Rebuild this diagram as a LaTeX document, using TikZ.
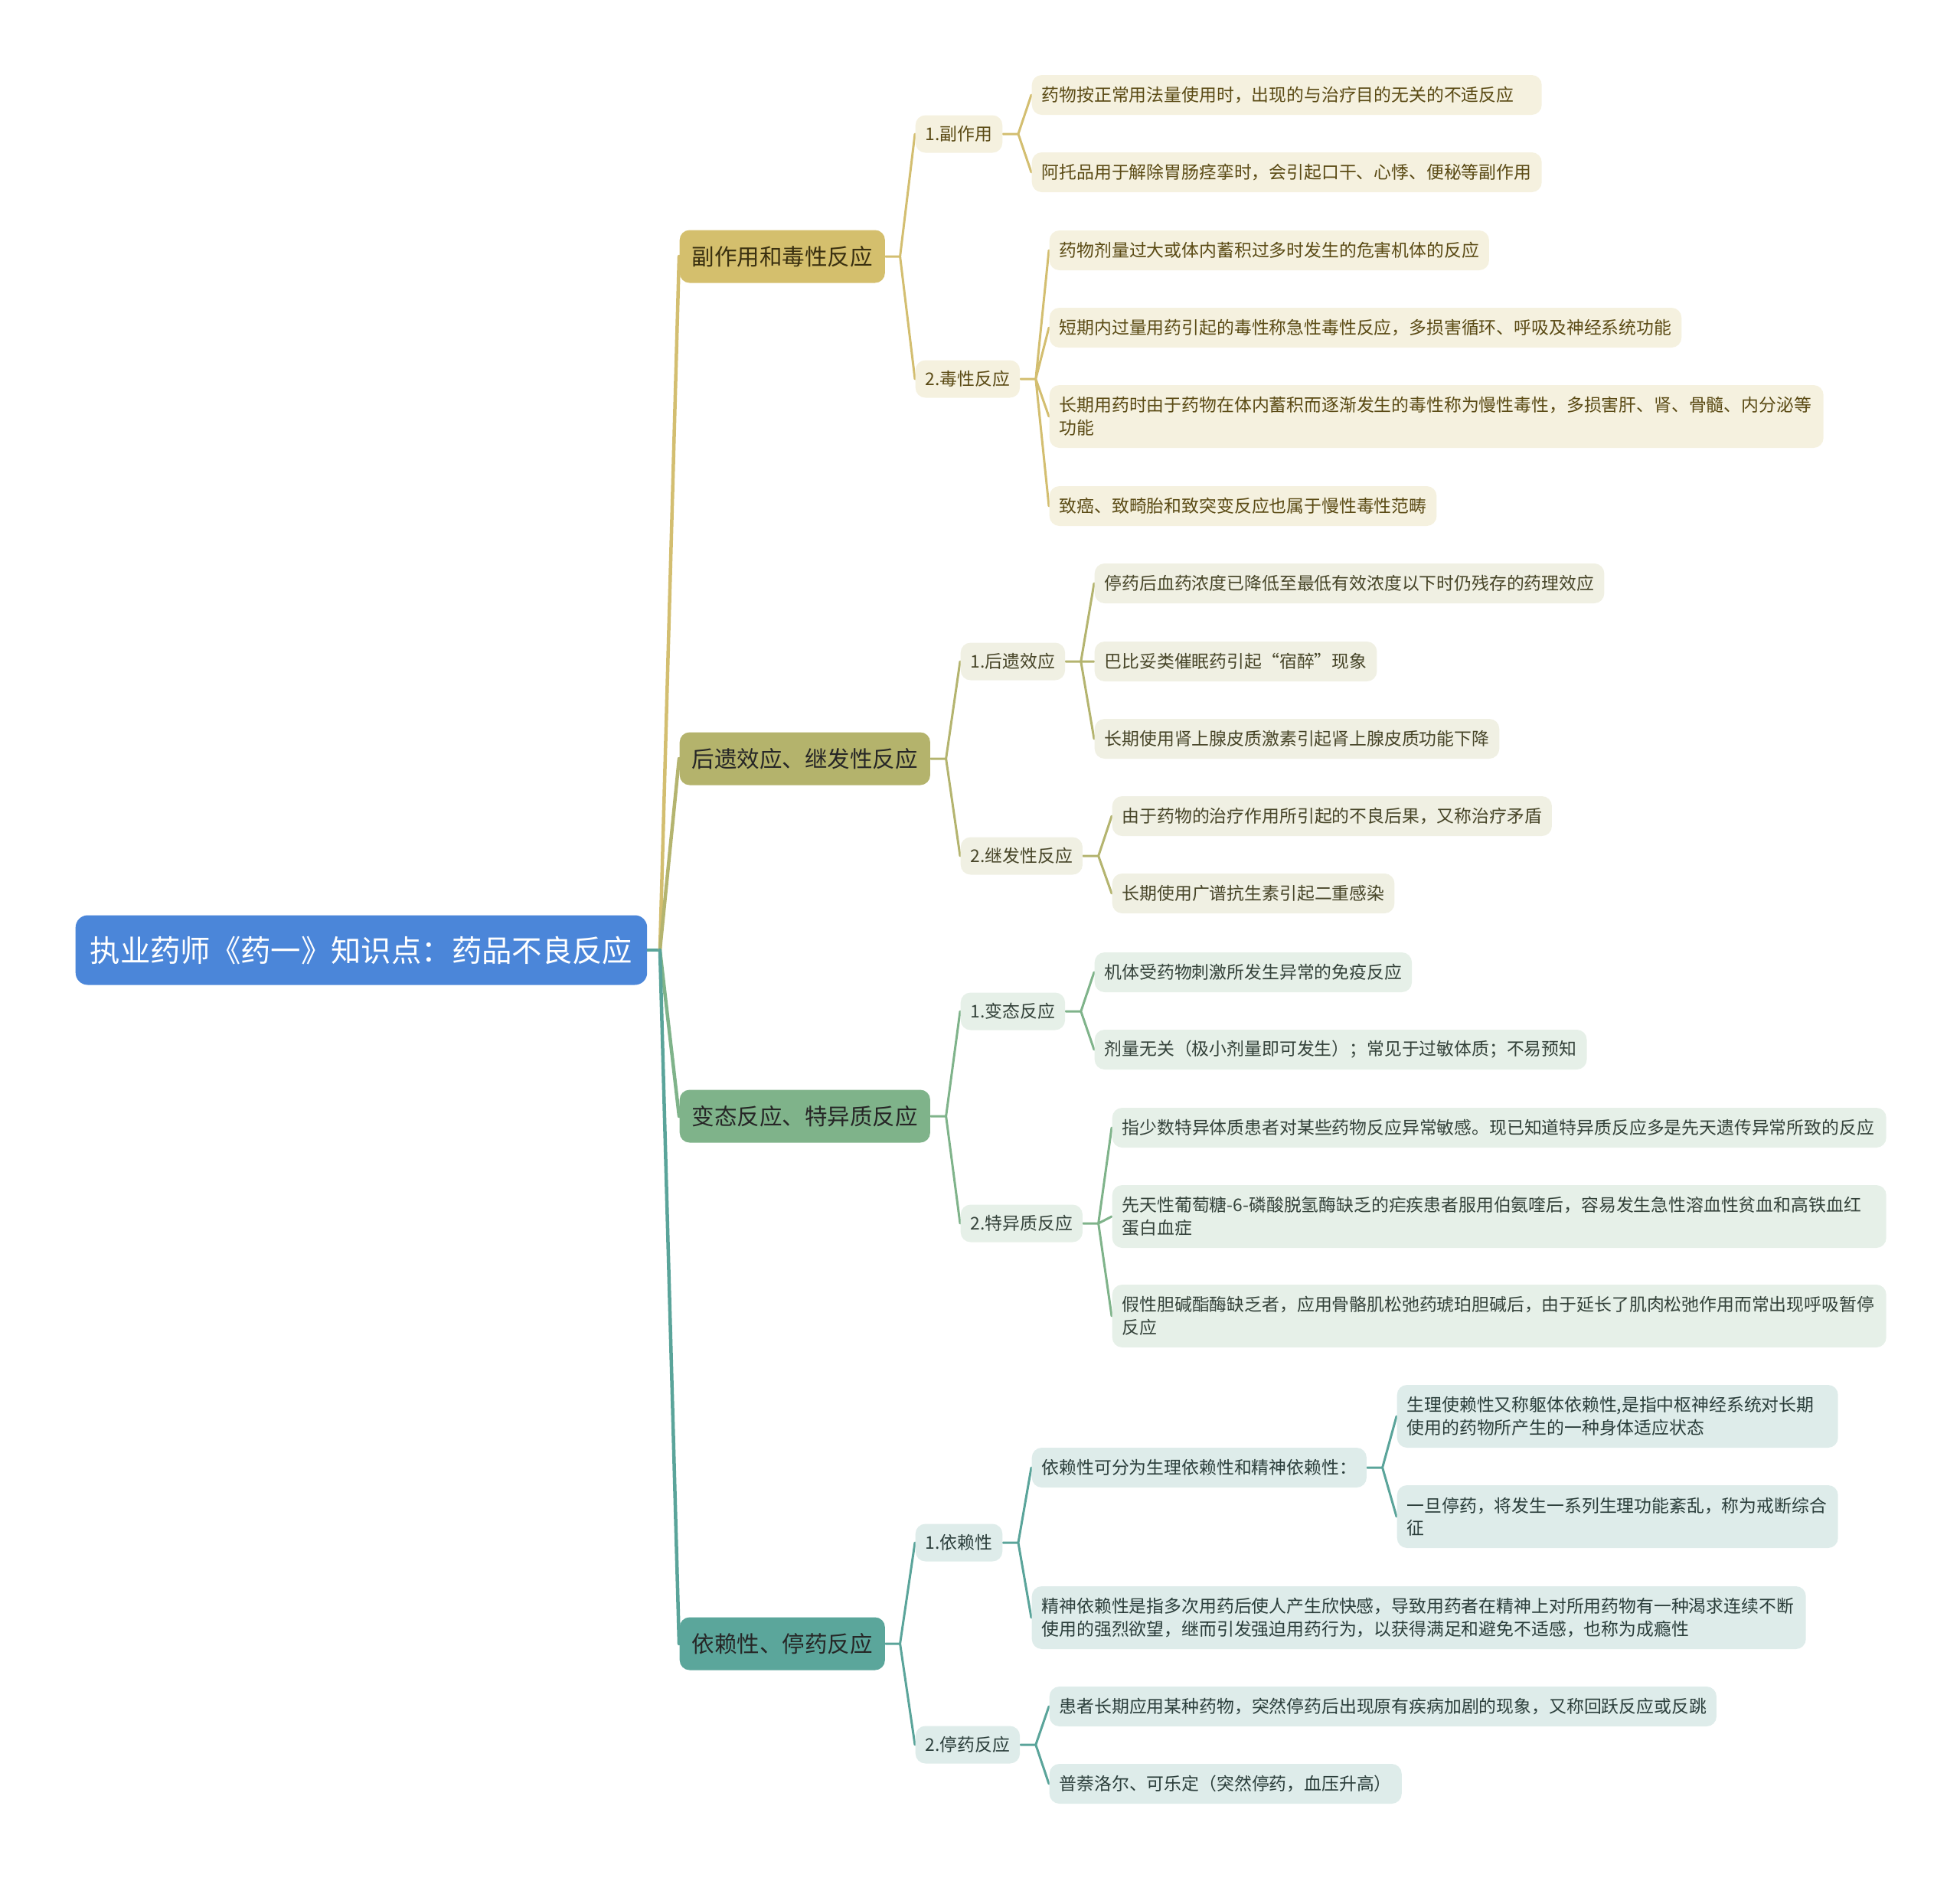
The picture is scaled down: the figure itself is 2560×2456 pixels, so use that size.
\documentclass[tikz,border=0pt]{standalone}
\usepackage{fontspec}
\newfontfamily\cjk{Noto Sans CJK SC}
\usepackage{xcolor}
\usetikzlibrary{positioning,calc,backgrounds}
\definecolor{racinebleu}{HTML}{4B86D9}
\definecolor{brancheor}{HTML}{D4BF6D}
\definecolor{feuilleor}{HTML}{F5F1DF}
\definecolor{lienor}{HTML}{D3BE70}
\definecolor{texteor}{HTML}{5A4A14}
\definecolor{titreor}{HTML}{3A3010}
\definecolor{brancheolive}{HTML}{B4B36C}
\definecolor{feuilleolive}{HTML}{F0F0E3}
\definecolor{lienolive}{HTML}{B4B46F}
\definecolor{texteolive}{HTML}{474528}
\definecolor{branchevert}{HTML}{7FB38A}
\definecolor{feuillevert}{HTML}{E6F0E8}
\definecolor{lienvert}{HTML}{7FB38A}
\definecolor{textevert}{HTML}{34423A}
\definecolor{branchesarc}{HTML}{5BA69B}
\definecolor{feuillesarc}{HTML}{DEECEA}
\definecolor{liensarc}{HTML}{5AA49A}
\definecolor{textesarc}{HTML}{2B3E3B}

\begin{document}
\begin{tikzpicture}[x=0.1mm,y=-0.1mm,
    noeud/.style={font=\cjk, anchor=west, inner xsep=1.3mm, inner ysep=0pt, rounded corners=1.3mm},
    racine/.style={noeud, fill=racinebleu, text=white, font=\cjk\fontsize{11.2}{13}\selectfont,
                   minimum height=9.1mm, inner xsep=1.9mm, rounded corners=1.6mm},
    branche/.style={noeud, font=\cjk\fontsize{8.4}{10}\selectfont, minimum height=6.9mm, inner xsep=1.6mm},
    sousbranche/.style={noeud, font=\cjk\fontsize{6.5}{8.4}\selectfont, minimum height=4.9mm},
    feuille/.style={sousbranche, minimum height=5.2mm, align=left},
    bloc/.style={feuille, text width=#1, minimum height=8.2mm},
    brOr/.style={fill=brancheor, text=titreor},
    flOr/.style={fill=feuilleor, text=texteor},
    brOl/.style={fill=brancheolive, text=black!85},
    flOl/.style={fill=feuilleolive, text=texteolive},
    brVe/.style={fill=branchevert, text=black!85},
    flVe/.style={fill=feuillevert, text=textevert},
    brSa/.style={fill=branchesarc, text=black!85},
    flSa/.style={fill=feuillesarc, text=textesarc},
    tronc/.style={line width=0.45mm, line cap=round},
    lien/.style={line width=0.3mm, line cap=round},
  ]
  \useasboundingbox (0,0) rectangle (2560,2456);

  % racine et branches principales
  \node[racine] (racine) at (98,1241) {执业药师《药一》知识点：药品不良反应};
  \node[branche, brOr] (brA) at (887,335) {副作用和毒性反应};
  \node[branche, brOl] (brB) at (887,991) {后遗效应、继发性反应};
  \node[branche, brVe] (brC) at (887,1458) {变态反应、特异质反应};
  \node[branche, brSa] (brD) at (887,2147) {依赖性、停药反应};

  % sous-branches
  \node[sousbranche, flOr] (sA1) at (1195,175) {1.副作用};
  \node[sousbranche, flOr] (sA2) at (1195,495) {2.毒性反应};
  \node[sousbranche, flOl] (sB1) at (1254,864) {1.后遗效应};
  \node[sousbranche, flOl] (sB2) at (1254,1118) {2.继发性反应};
  \node[sousbranche, flVe] (sC1) at (1254,1321) {1.变态反应};
  \node[sousbranche, flVe] (sC2) at (1254,1598) {2.特异质反应};
  \node[sousbranche, flSa] (sD1) at (1195,2015) {1.依赖性};
  \node[sousbranche, flSa] (sD2) at (1195,2279) {2.停药反应};

  % feuilles, branche A
  \node[bloc=64mm, flOr, minimum height=5.2mm] (fA11) at (1347,124) {药物按正常用法量使用时，出现的与治疗目的无关的不适反应};
  \node[bloc=64mm, flOr, minimum height=5.2mm] (fA12) at (1347,225) {阿托品用于解除胃肠痉挛时，会引起口干、心悸、便秘等副作用};
  \node[feuille, flOr] (fA21) at (1370,327) {药物剂量过大或体内蓄积过多时发生的危害机体的反应};
  \node[feuille, flOr] (fA22) at (1370,428) {短期内过量用药引起的毒性称急性毒性反应，多损害循环、呼吸及神经系统功能};
  \node[bloc=98.5mm, flOr] (fA23) at (1370,544) {长期用药时由于药物在体内蓄积而逐渐发生的毒性称为慢性毒性，多损害肝、肾、骨髓、内分泌等\\功能};
  \node[feuille, flOr] (fA24) at (1370,661) {致癌、致畸胎和致突变反应也属于慢性毒性范畴};

  % feuilles, branche B
  \node[feuille, flOl] (fB11) at (1429,762) {停药后血药浓度已降低至最低有效浓度以下时仍残存的药理效应};
  \node[feuille, flOl] (fB12) at (1429,864) {巴比妥类催眠药引起“宿醉”现象};
  \node[feuille, flOl] (fB13) at (1429,965) {长期使用肾上腺皮质激素引起肾上腺皮质功能下降};
  \node[feuille, flOl] (fB21) at (1452,1066) {由于药物的治疗作用所引起的不良后果，又称治疗矛盾};
  \node[feuille, flOl] (fB22) at (1452,1167) {长期使用广谱抗生素引起二重感染};

  % feuilles, branche C
  \node[feuille, flVe] (fC11) at (1429,1270) {机体受药物刺激所发生异常的免疫反应};
  \node[feuille, flVe] (fC12) at (1429,1371) {剂量无关（极小剂量即可发生）；常见于过敏体质；不易预知};
  \node[bloc=98.5mm, flVe, minimum height=5.2mm] (fC21) at (1452,1473) {指少数特异体质患者对某些药物反应异常敏感。现已知道特异质反应多是先天遗传异常所致的反应};
  \node[bloc=98.5mm, flVe] (fC22) at (1452,1589) {先天性葡萄糖-6-磷酸脱氢酶缺乏的疟疾患者服用伯氨喹后，容易发生急性溶血性贫血和高铁血红\\蛋白血症};
  \node[bloc=98.5mm, flVe] (fC23) at (1452,1719) {假性胆碱酯酶缺乏者，应用骨骼肌松弛药琥珀胆碱后，由于延长了肌肉松弛作用而常出现呼吸暂停\\反应};

  % feuilles, branche D
  \node[feuille, flSa] (fD11) at (1347,1917) {依赖性可分为生理依赖性和精神依赖性：};
  \node[bloc=55mm, flSa] (fD111) at (1824,1850) {生理使赖性又称躯体依赖性,是指中枢神经系统对长期\\使用的药物所产生的一种身体适应状态};
  \node[bloc=55mm, flSa] (fD112) at (1824,1981) {一旦停药，将发生一系列生理功能紊乱，称为戒断综合\\征};
  \node[bloc=98.5mm, flSa] (fD12) at (1347,2113) {精神依赖性是指多次用药后使人产生欣快感，导致用药者在精神上对所用药物有一种渴求连续不断\\使用的强烈欲望，继而引发强迫用药行为，以获得满足和避免不适感，也称为成瘾性};
  \node[feuille, flSa] (fD21) at (1370,2229) {患者长期应用某种药物，突然停药后出现原有疾病加剧的现象，又称回跃反应或反跳};
  \node[feuille, flSa] (fD22) at (1370,2330) {普萘洛尔、可乐定（突然停药，血压升高）};

  % liens, derriere les noeuds
  \begin{scope}[on background layer]
    \coordinate (kR) at ($(racine.east)+(16,0)$);
    \draw[tronc, liensarc] (racine.east) -- (kR);
    \draw[tronc, lienor] (kR) -- (brA.west);
    \draw[tronc, lienolive] (kR) -- (brB.west);
    \draw[tronc, lienvert] (kR) -- (brC.west);
    \draw[tronc, liensarc] (kR) -- (brD.west);

    \coordinate (kA) at ($(brA.east)+(19,0)$);
    \draw[lien, lienor] (brA.east) -- (kA) -- (sA1.west) (kA) -- (sA2.west);
    \coordinate (kA1) at ($(sA1.east)+(20,0)$);
    \draw[lien, lienor] (sA1.east) -- (kA1) -- (fA11.west) (kA1) -- (fA12.west);
    \coordinate (kA2) at ($(sA2.east)+(20,0)$);
    \draw[lien, lienor] (sA2.east) -- (kA2) -- (fA21.west) (kA2) -- (fA22.west)
                        (kA2) -- (fA23.west) (kA2) -- (fA24.west);

    \coordinate (kB) at ($(brB.east)+(20,0)$);
    \draw[lien, lienolive] (brB.east) -- (kB) -- (sB1.west) (kB) -- (sB2.west);
    \coordinate (kB1) at ($(sB1.east)+(20,0)$);
    \draw[lien, lienolive] (sB1.east) -- (kB1) -- (fB11.west) (kB1) -- (fB12.west) (kB1) -- (fB13.west);
    \coordinate (kB2) at ($(sB2.east)+(20,0)$);
    \draw[lien, lienolive] (sB2.east) -- (kB2) -- (fB21.west) (kB2) -- (fB22.west);

    \coordinate (kC) at ($(brC.east)+(20,0)$);
    \draw[lien, lienvert] (brC.east) -- (kC) -- (sC1.west) (kC) -- (sC2.west);
    \coordinate (kC1) at ($(sC1.east)+(20,0)$);
    \draw[lien, lienvert] (sC1.east) -- (kC1) -- (fC11.west) (kC1) -- (fC12.west);
    \coordinate (kC2) at ($(sC2.east)+(20,0)$);
    \draw[lien, lienvert] (sC2.east) -- (kC2) -- (fC21.west) (kC2) -- (fC22.west) (kC2) -- (fC23.west);

    \coordinate (kD) at ($(brD.east)+(19,0)$);
    \draw[lien, liensarc] (brD.east) -- (kD) -- (sD1.west) (kD) -- (sD2.west);
    \coordinate (kD1) at ($(sD1.east)+(20,0)$);
    \draw[lien, liensarc] (sD1.east) -- (kD1) -- (fD11.west) (kD1) -- (fD12.west);
    \coordinate (kD11) at ($(fD11.east)+(20,0)$);
    \draw[lien, liensarc] (fD11.east) -- (kD11) -- (fD111.west) (kD11) -- (fD112.west);
    \coordinate (kD2) at ($(sD2.east)+(20,0)$);
    \draw[lien, liensarc] (sD2.east) -- (kD2) -- (fD21.west) (kD2) -- (fD22.west);
  \end{scope}
\end{tikzpicture}
\end{document}
